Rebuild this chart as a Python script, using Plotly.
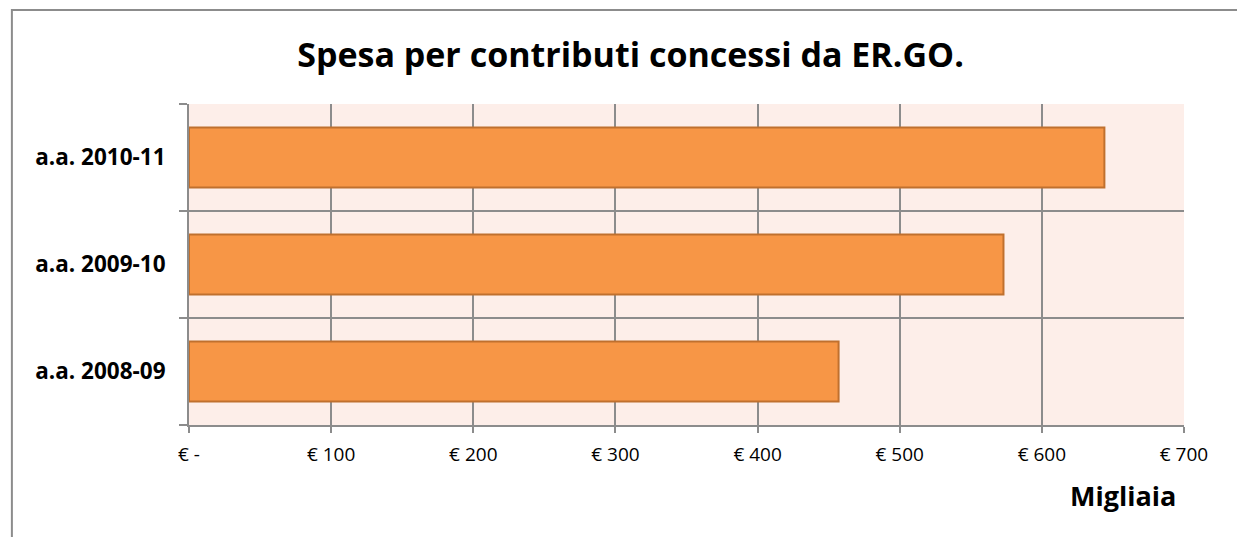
import plotly.graph_objects as go

# dati (migliaia di euro)
anni = ["a.a. 2008-09", "a.a. 2009-10", "a.a. 2010-11"]
spesa = [457, 573, 644]
tick_vals = [0, 100, 200, 300, 400, 500, 600, 700]
tick_text = ["€ -", "€ 100", "€ 200", "€ 300", "€ 400", "€ 500", "€ 600", "€ 700"]

FONT = "'Open Sans', Lato, sans-serif"
GRID = "#8c8c8c"

fig = go.Figure()

fig.add_trace(go.Bar(
    x=spesa,
    y=anni,
    orientation="h",
    marker=dict(color="#f79646", line=dict(color="#c0702e", width=2)),
    width=0.56,
    hoverinfo="x+y",
))

# la pagina ha 8px di margine: compensato nei margini del grafico
fig.update_layout(
    width=1245, height=537,
    margin=dict(l=181, r=69, t=96, b=120),
    paper_bgcolor="white",
    plot_bgcolor="#fdeee9",
    showlegend=False,
    title=dict(text="<b>Spesa per contributi concessi da ER.GO.</b>",
               x=0.5, xanchor="center", y=0.912, yanchor="middle",
               font=dict(family=FONT, size=34, color="black")),
    font=dict(family=FONT, color="black"),
)

fig.update_xaxes(
    range=[0, 700],
    tickvals=tick_vals, ticktext=tick_text,
    tickfont=dict(size=19),
    showgrid=True, gridcolor=GRID, gridwidth=2,
    showline=True, linecolor=GRID, linewidth=2,
    ticks="outside", ticklen=6, tickcolor=GRID, tickwidth=2,
    ticklabelstandoff=5,
    zeroline=False, fixedrange=True,
)

fig.update_yaxes(
    type="category",
    tickson="boundaries",
    tickfont=dict(size=22.5, family=FONT),
    showgrid=True, gridcolor=GRID, gridwidth=2,
    showline=True, linecolor=GRID, linewidth=2,
    ticks="outside", ticklen=8, tickcolor=GRID, tickwidth=2,
    ticklabelstandoff=17,
    fixedrange=True,
)
fig.update_yaxes(ticktext=["<b>%s</b>" % a for a in anni], tickvals=anni)

# titolo asse
fig.add_annotation(text="<b>Migliaia</b>", xref="paper", yref="paper",
                   x=0.9387, y=-0.221, xanchor="center", yanchor="middle",
                   showarrow=False, font=dict(family=FONT, size=27, color="black"))

# cornice esterna
fig.add_shape(type="rect", xref="paper", yref="paper",
              x0=-0.178, x1=1.2, y0=-0.5, y1=1.293,
              line=dict(color="#8c8c8c", width=2), layer="below")

fig.write_html("out.html")
